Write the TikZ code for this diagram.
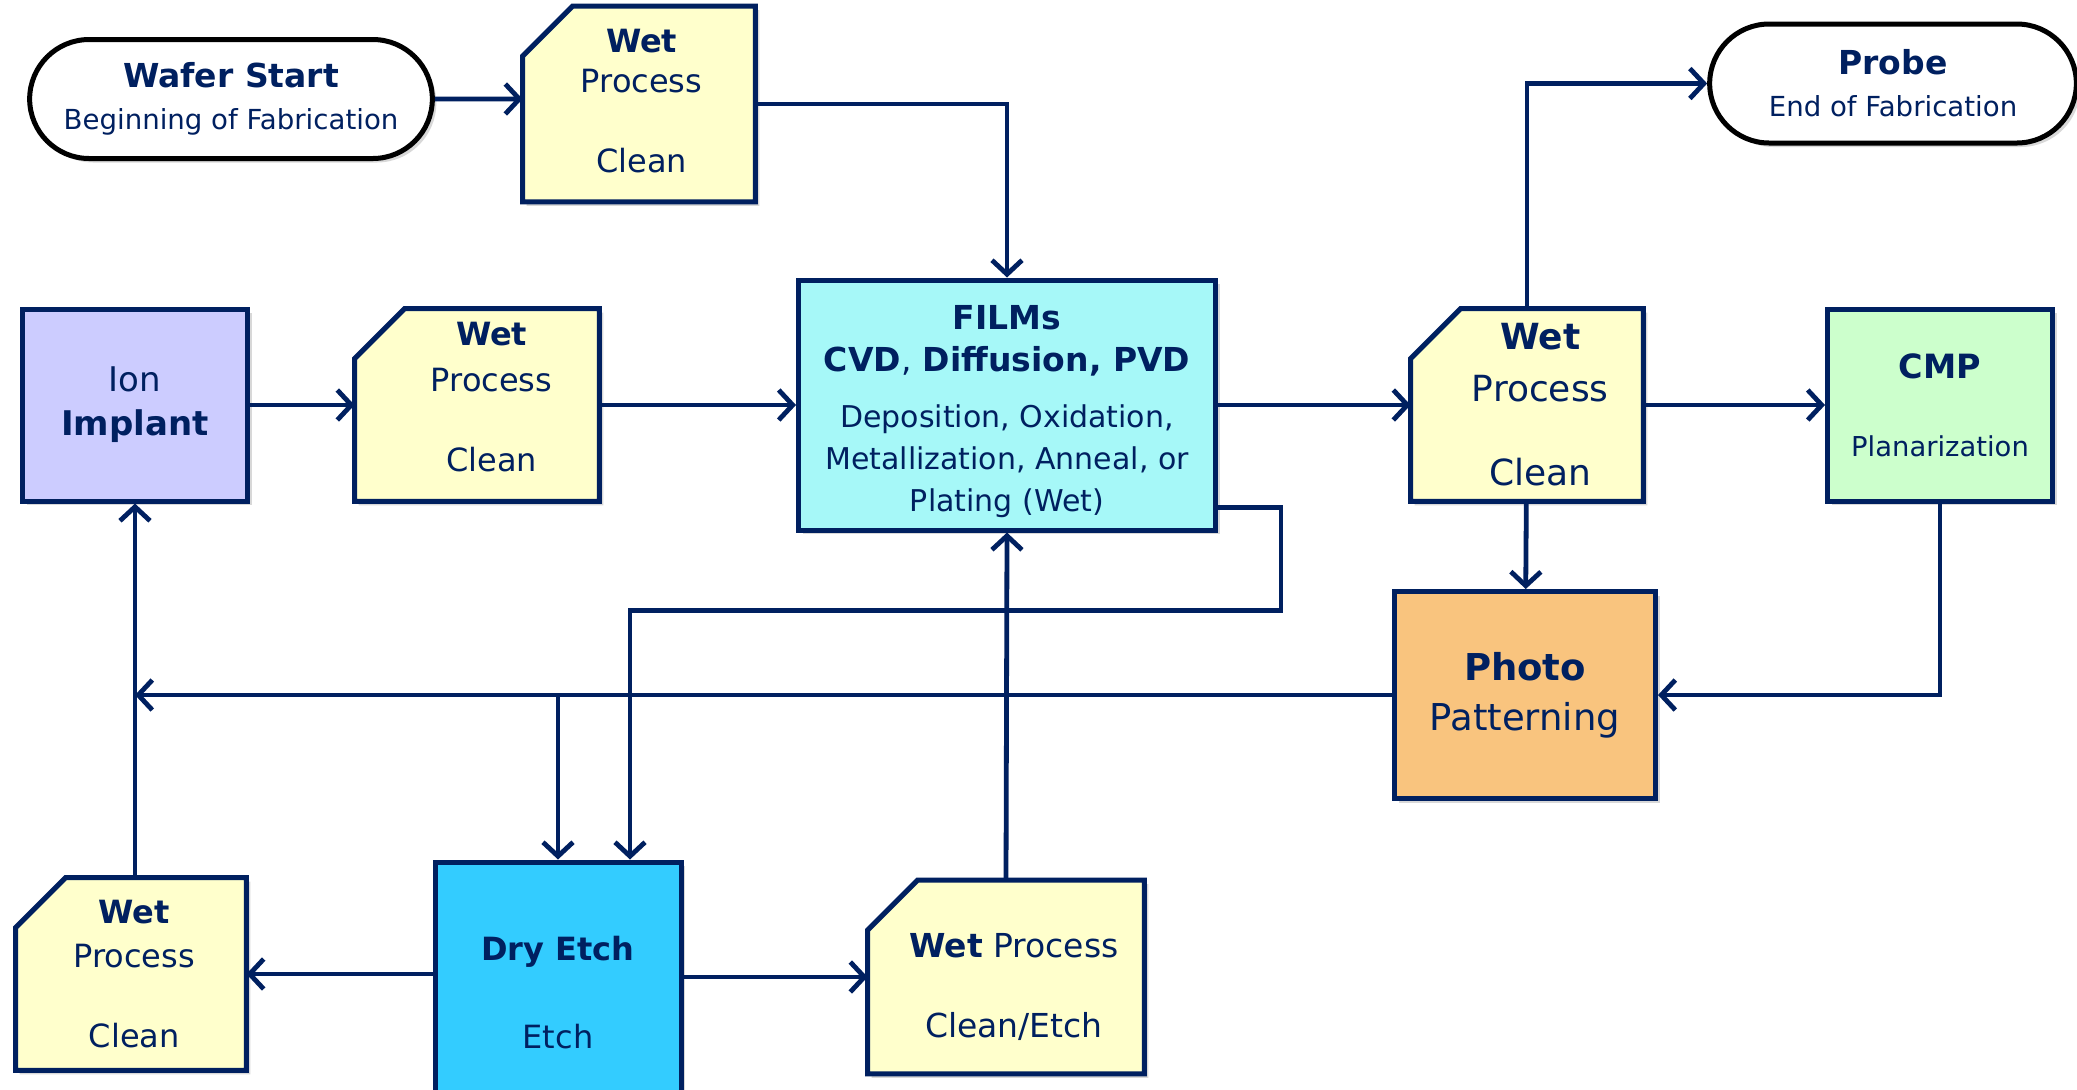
\documentclass[tikz,border=0pt]{standalone}
\usepackage{fontspec}
\setmainfont{DejaVu Sans}
\usepackage{tikz}
\usetikzlibrary{shapes,arrows.meta,shadows,calc,backgrounds}
\usepackage{xcolor}

\definecolor{navy}{HTML}{002060}
\definecolor{wetyellow}{HTML}{FFFFCC}
\definecolor{filmcyan}{HTML}{A6F8F8}
\definecolor{implantblue}{HTML}{CCCCFF}
\definecolor{cmpgreen}{HTML}{CCFFCC}
\definecolor{photoorange}{HTML}{F9C47E}
\definecolor{etchblue}{HTML}{33CCFF}

\newcommand{\fsz}[2]{\fontsize{#1}{#2}\selectfont}

\begin{document}
\begin{tikzpicture}[
        x=0.5pt, y=-0.5pt,
        >={Straight Barb[length=7pt,width=15pt]},
        every node/.style={text=navy, align=center},
        box/.style={
            rectangle,
            draw=navy,
            line width=2.5pt,
            inner sep=2pt,
            drop shadow={opacity=0.3, shadow xshift=2pt, shadow yshift=-2pt}
        },
        wetbox/.style={
            rectangle,
            inner sep=0pt
        },
        wettext/.style={
            inner sep=0pt,
            font=\fsz{16}{20}
        },
        wetshape/.style={
            draw=navy,
            fill=wetyellow,
            line width=2.5pt,
            drop shadow={opacity=0.3, shadow xshift=2pt, shadow yshift=-2pt}
        },
        terminal/.style={
            rounded rectangle,
            draw=black,
            fill=white,
            line width=2.5pt,
            minimum width=208pt,
            minimum height=59.5pt,
            font=\fsz{13.8}{21},
            drop shadow={opacity=0.3, shadow xshift=2pt, shadow yshift=-2pt}
        },
        line/.style={
            draw=navy,
            ->,
            line width=2.4pt
        }
    ]

    \useasboundingbox (0,0) rectangle (2077,1089);

    % Nodes
    \node [terminal] (wafer) at (231,99) {{\fsz{16.5}{21}\bfseries Wafer Start}\\Beginning of Fabrication};
    \node [wetbox, minimum width=116pt, minimum height=97.5pt,
        label={[wettext, xshift=1.3pt, yshift=1.6pt]center:{\textbf{Wet}\\Process\\[20pt]Clean}}] (wet1) at (639,104) {};

    \node [box, fill=implantblue, minimum width=112.5pt, minimum height=96pt, font=\fsz{17}{22}] (ion) at (135,405) {Ion\\\textbf{Implant}};
    \node [wetbox, minimum width=122pt, minimum height=96pt,
        label={[wettext, xshift=7.3pt, yshift=4pt]center:{\textbf{Wet}\\[3pt]Process\\[20pt]Clean}}] (wet2) at (477,405) {};
    \node [box, fill=filmcyan, minimum width=208.5pt, minimum height=125pt, font=\fsz{15}{21}] (films) at (1007,405)
        {\raisebox{0pt}[19.1pt]{\fsz{16.5}{21}\bfseries FILMs}\\{\fsz{16.5}{21}\bfseries CVD\mdseries,\bfseries{} Diffusion, PVD}\\[7pt]Deposition, Oxidation,\\Metallization, Anneal, or\\Plating (Wet)};
    \node [wetbox, minimum width=116pt, minimum height=96pt,
        label={[wettext, font=\fsz{18}{26}, xshift=6.6pt]center:{\textbf{Wet}\\Process\\[16pt]Clean}}] (wet3) at (1527,405) {};
    \node [box, fill=cmpgreen, minimum width=112.5pt, minimum height=96pt, font=\fsz{13.7}{20}] (cmp) at (1940,405) {{\fsz{16.7}{20}\bfseries CMP}\\[19pt]Planarization};

    \node [terminal, minimum width=190pt] (probe) at (1893,83.5) {{\fsz{16.5}{21}\bfseries Probe}\\End of Fabrication};
    \node [box, fill=photoorange, minimum width=130.5pt, minimum height=103.5pt, font=\fsz{18.5}{25}] (photo) at (1525,695) {\textbf{Photo}\\Patterning};

    % Etch row
    \node [box, fill=etchblue, minimum width=123pt, minimum height=124pt, font=\fsz{16}{22}] (dry) at (558,986) {\raisebox{0pt}[18.8pt]{\bfseries Dry Etch}\\[22pt]Etch};
    \node [wetbox, minimum width=115pt, minimum height=96pt,
        label={[wettext, xshift=1.6pt]center:{\textbf{Wet}\\[2pt]Process\\[20pt]Clean}}] (wet4) at (131,974) {};
    \node [wetbox, minimum width=138pt, minimum height=96.5pt,
        label={[wettext, font=\fsz{16.5}{20}, xshift=4pt, yshift=-5pt]center:{\textbf{Wet} Process\\[20pt]Clean/Etch}}] (wet5) at (1006,977) {};

    % Clipped-corner outlines behind the wet process texts
    \begin{scope}[on background layer]
        \fill [white] (0,0) rectangle (2077,1089);
        \foreach \w in {wet1,wet2,wet3,wet4,wet5}
            \path [wetshape] (\w.south west) -- (\w.south east) -- (\w.north east)
                -- ([xshift=25pt]\w.north west) -- ([yshift=-25pt]\w.north west) -- cycle;
    \end{scope}

    \coordinate (filmsloop) at (1281,610.6);

    % Connections
    \path [line] (wafer) -- (wafer -| wet1.west);
    \path [line] (wet1.east) -| (films.north);
    \path [line] (ion) -- (wet2);
    \path [line] (wet2) -- (films);
    \path [line] (films) -- (wet3);
    \path [line] (wet3) -- (cmp);
    \path [line] (wet3.north) |- (probe.west);
    \path [line] (wet3) -- (photo);
    \path [line] (cmp.south) |- (photo.east);

    \path [line] (photo.west) -- (photo.west -| ion.south);
    \path [line] (dry.north |- photo.west) -- (dry.north);
    \path [line] ([yshift=12.5pt]films.south east) -| (filmsloop) -| ([xshift=36pt]dry.north);

    \path [line] (wet5.north) -- (films.south);
    \path [line] (ion.south |- wet4.north) -- (ion.south);
    \path [line] (dry.west |- wet4) -- (wet4.east);
    \path [line] (dry.east |- wet5) -- (wet5.west);

\end{tikzpicture}
\end{document}
